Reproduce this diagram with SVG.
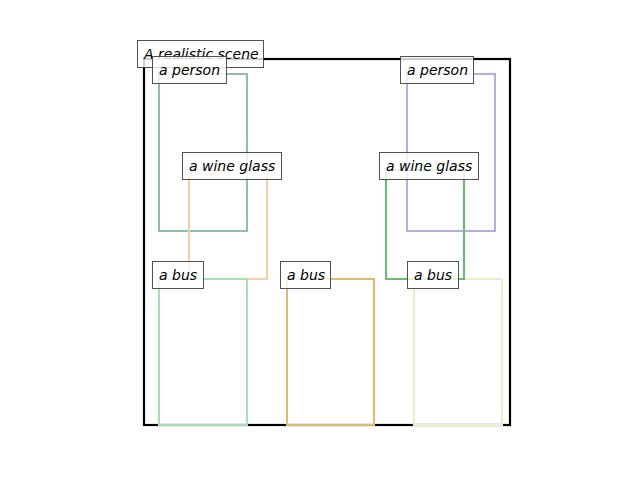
<svg xmlns="http://www.w3.org/2000/svg" width="640" height="480" viewBox="0 0 640 480">
<style>
.bx{fill:none;stroke-width:2.1}
.lb{fill:#ffffff;fill-opacity:0.8;stroke:#3f3f3f;stroke-opacity:0.9;stroke-width:1}
.tx{font-family:"DejaVu Sans",sans-serif;font-style:oblique;font-size:14px;fill:#000}
</style>
<rect x="0" y="0" width="640" height="480" fill="#ffffff"/>
<g id="scene">
<rect x="144" y="59" width="366" height="366" fill="none" stroke="#000" stroke-width="2.2"/>
</g>
<g id="person-left"><rect class="bx" x="159" y="74" width="88" height="157" stroke="#92bba9"/></g>
<g id="wineglass-left"><rect class="bx" x="189" y="170" width="78" height="109" stroke="#f7cfa7"/></g>
<g id="bus-left"><rect class="bx" x="159" y="279" width="88" height="146" stroke="#a3e2b4"/></g>
<g id="bus-middle"><rect class="bx" x="287" y="279" width="87" height="146" stroke="#dcbb75"/></g>
<g id="bus-right"><rect class="bx" x="414" y="279" width="88" height="146" stroke="#e6eecb"/></g>
<g id="person-right"><rect class="bx" x="407" y="74" width="88" height="157" stroke="#b3b0e0"/></g>
<g id="wineglass-right"><rect class="bx" x="386" y="170" width="78" height="109" stroke="#6bbb73"/></g>
<g id="labels">
<g id="label-scene"><rect class="lb" x="137.5" y="40.5" width="126" height="27"/><text class="tx" x="144" y="58.5">A realistic scene</text></g>
<g id="label-person-left"><rect class="lb" x="152.5" y="56.5" width="74" height="27"/><text class="tx" x="159" y="74.5">a person</text></g>
<g id="label-wine-left"><rect class="lb" x="182.5" y="152.5" width="99" height="27"/><text class="tx" x="189" y="170.5">a wine glass</text></g>
<g id="label-bus-left"><rect class="lb" x="152.5" y="261.5" width="51" height="27"/><text class="tx" x="159" y="279.5">a bus</text></g>
<g id="label-bus-middle"><rect class="lb" x="280.5" y="261.5" width="50" height="27"/><text class="tx" x="287" y="279.5">a bus</text></g>
<g id="label-bus-right"><rect class="lb" x="407.5" y="261.5" width="51" height="27"/><text class="tx" x="414" y="279.5">a bus</text></g>
<g id="label-person-right"><rect class="lb" x="400.5" y="56.5" width="73" height="27"/><text class="tx" x="407" y="74.5">a person</text></g>
<g id="label-wine-right"><rect class="lb" x="379.5" y="152.5" width="99" height="27"/><text class="tx" x="386" y="170.5">a wine glass</text></g>
</g>
</svg>
